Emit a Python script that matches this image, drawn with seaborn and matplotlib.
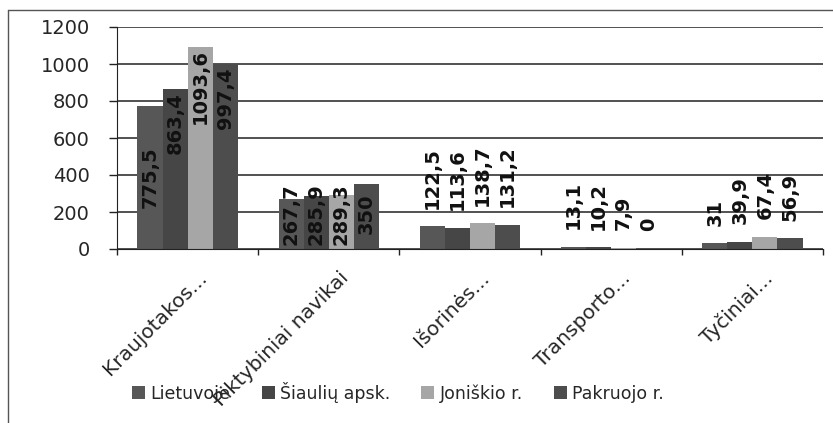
import numpy as np
import pandas as pd
import matplotlib
matplotlib.use('Agg')
import matplotlib.pyplot as plt
import matplotlib.transforms as mtrans
import seaborn as sns
from matplotlib.patches import Patch
from matplotlib.lines import Line2D

categories = ['Kraujotakos...', 'Piktybiniai navikai', 'Išorinės...', 'Transporto...', 'Tyčiniai...']
regions = ['Lietuvoje', 'Šiaulių apsk.', 'Joniškio r.', 'Pakruojo r.']
lietuvoje = [775.5, 267.7, 122.5, 13.1, 31]
siauliu = [863.4, 285.9, 113.6, 10.2, 39.9]
joniskio = [1093.6, 289.3, 138.7, 7.9, 67.4]
pakruojo = [997.4, 350, 131.2, 0, 56.9]
colors = ['#575757', '#464646', '#a6a6a6', '#4d4d4d']

series = [lietuvoje, siauliu, joniskio, pakruojo]
rows = []
for reg, vals in zip(regions, series):
    for cat, v in zip(categories, vals):
        rows.append({'cat': cat, 'region': reg, 'value': v})
df = pd.DataFrame(rows)

sns.set_style('white')
plt.rcParams['font.family'] = ['DejaVu Sans']

fig = plt.figure(figsize=(8.33, 4.23), dpi=100)
ax = fig.add_axes([117/833, 1-249/423, (823-117)/833, (249-27)/423])

sns.barplot(data=df, x='cat', y='value', hue='region', order=categories,
            hue_order=regions, palette=colors, width=0.71, gap=0,
            saturation=1, legend=False, ax=ax, linewidth=0)

ax.set_ylim(0, 1200)
ax.set_xlim(-0.5, len(categories) - 0.5)
ax.set_yticks(np.arange(0, 1201, 200))
ax.yaxis.grid(True, color='#222222', lw=1.1)
ax.set_axisbelow(True)
for s in ['top', 'right']:
    ax.spines[s].set_visible(False)
ax.spines['left'].set_color('#222222')
ax.spines['bottom'].set_color('#222222')
ax.tick_params(axis='y', length=6, width=1, color='#222222', labelsize=14, pad=13.5, left=True)
ax.set_xlabel('')
ax.set_ylabel('')

# category boundary ticks
ax.set_xticks(np.arange(-0.5, len(categories), 1.0), minor=True)
ax.tick_params(axis='x', which='minor', length=4.5, width=1, color='#222222', bottom=True)
ax.set_xticks(range(len(categories)))
ax.set_xticklabels(categories, rotation=45, ha='right', va='top',
                   rotation_mode='anchor', fontsize=14.5)
ax.tick_params(axis='x', which='major', length=0, pad=14)
shift = mtrans.ScaledTranslation(10/100, 0, fig.dpi_scale_trans)
for lab in ax.get_xticklabels():
    lab.set_transform(lab.get_transform() + shift)

def fmt(v):
    if float(v).is_integer():
        return str(int(v))
    return ('%.1f' % v).replace('.', ',')

for cont, vals in zip(ax.containers, series):
    for bar, v in zip(cont, vals):
        xc = bar.get_x() + bar.get_width() / 2
        kw = dict(rotation=90, ha='center', fontsize=14, fontweight='bold', color='#111111')
        if v > 800:
            ax.text(xc, v - 15, fmt(v), va='top', **kw)
        elif v >= 200:
            ax.text(xc, max(v / 2, 190), fmt(v), va='center', **kw)
        else:
            ax.text(xc, v + 95, fmt(v), va='bottom', **kw)

handles = [Patch(facecolor=c, edgecolor='none') for c in colors]
fig.legend(handles, regions, loc='center', bbox_to_anchor=(0.478, 0.073), ncol=4,
           frameon=False, fontsize=12.5, handlelength=0.75, handleheight=0.75,
           handletextpad=0.3, columnspacing=1.8)

# outer chart frame (left and top edges visible)
fig.add_artist(Line2D([8/833, 8/833], [0, 1-10/423], transform=fig.transFigure, color='#555555', lw=1))
fig.add_artist(Line2D([8/833, 1], [1-10/423, 1-10/423], transform=fig.transFigure, color='#555555', lw=1))

fig.savefig('out.png', dpi=100)
